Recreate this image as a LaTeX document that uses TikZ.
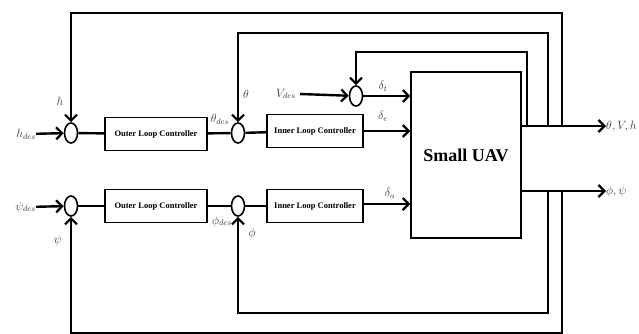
\documentclass[tikz,border=0pt]{standalone}
\usepackage{fontspec}
\setmainfont{Liberation Serif}
\usetikzlibrary{shapes.geometric,arrows.meta,calc}
\definecolor{lblcol}{rgb}{0.2,0.22,0.3}
\begin{document}
\begin{tikzpicture}[x=1pt,y=-1pt,>={Straight Barb[length=6pt,width=12pt,line width=2.2pt]}]
        \tikzstyle{sum}=[ellipse,draw=black,line width=1.6pt,fill=white,minimum width=13pt,minimum height=20pt,inner sep=0pt]
        \tikzstyle{ctrl}=[rectangle,draw=black,line width=1.4pt,minimum height=33pt,inner sep=0pt,font=\bfseries\fontsize{8.5}{9}\selectfont]
        \tikzstyle{lbl}=[text=lblcol,inner sep=0pt,font=\fontsize{12}{14}\selectfont]
        \tikzstyle{sig}=[draw, line width=2.4pt]
        \useasboundingbox (0,0) rectangle (639,334);
       \begin{scope}
         % upper channel
         \node [sum] (s1) at (71,133) {};
         \node [ctrl,minimum width=102pt] (olc1) at (156,134) {Outer Loop Controller};
         \node [sum] (s2) at (238,133) {};
         \node [ctrl,minimum width=96pt] (ilc1) at (315,131) {Inner Loop Controller};
         \node [sum] (s3) at (356,96) {};
         \node [draw=black,line width=1.4pt,minimum width=110pt,minimum height=166pt,inner sep=0pt,font=\bfseries\fontsize{18}{21}\selectfont] (uav) at (466,155) {Small UAV};
         % lower channel
         \node [sum] (s4) at (71,206) {};
         \node [ctrl,minimum width=102pt] (olc2) at (156,206) {Outer Loop Controller};
         \node [sum] (s5) at (238,206) {};
         \node [ctrl,minimum width=96pt] (ilc2) at (315,206) {Inner Loop Controller};
         % inputs and outputs
         \node [lbl,anchor=east] (hdes) at (36,134) {$h_{des}$};
         \node [lbl,anchor=east] (psides) at (36,207) {$\psi_{des}$};
         \node [lbl,anchor=east] (vdes) at (296,94) {$V_{des}$};
         \node [lbl,anchor=west] (out1) at (606,126) {$\theta,V,h$};
         \node [lbl,anchor=west] (out2) at (606,191) {$\phi,\psi$};
         \node [lbl] (h) at (60,101) {$h$};
         \node [lbl] (th) at (246,94) {$\theta$};
         \node [lbl] (thdes) at (220,119) {$\theta_{des}$};
         \node [lbl] (dt) at (383,86) {$\delta_t$};
         \node [lbl] (de) at (383,116) {$\delta_e$};
         \node [lbl] (da) at (390,193) {$\delta_a$};
         \node [lbl] (psi) at (58,240) {$\psi$};
         \node [lbl] (phdes) at (222,221) {$\phi_{des}$};
         \node [lbl] (ph) at (252,233) {$\phi$};
         % branch points
         \coordinate (f1) at (527,126);
         \coordinate (f2) at (548,126);
         \coordinate (f3) at (562,126);
         \coordinate (f4) at (548,191);
         \coordinate (f5) at (562,191);
         \coordinate (c1) at (527,52);
         \coordinate (c2) at (548,33);
         \coordinate (c3) at (562,13);
         \coordinate (c4) at (548,313);
         \coordinate (c5) at (562,333);
         % forward paths
         \path[sig,->] (hdes) -- (s1);
         \path[sig] (s1) -- (olc1);
         \path[sig] (olc1) -- (s2);
         \path[sig] (s2) -- (ilc1);
         \path[sig,->] (ilc1.east) -- (ilc1.east -| uav.west);
         \path[sig,->] (vdes.east) ++(4pt,0) -- (s3);
         \path[sig,->] (s3) -- (s3 -| uav.west);
         \path[sig,->] (psides) -- (s4);
         \path[sig] (s4) -- (olc2);
         \path[sig] (olc2) -- (s5);
         \path[sig] (s5) -- (ilc2);
         \path[sig,->] (ilc2.east) ++(0,-2) -- ($(ilc2.east -| uav.west)+(0,-2)$);
         \path[sig,->] (f1 -| uav.east) -- (out1);
         \path[sig,->] (f4 -| uav.east) -- (out2);
         % feedback paths
         \path[sig,->] (f1) -- (c1) -| (s3.north);
         \path[sig,->] (f2) -- (c2) -| (s2.north);
         \path[sig,->] (f3) -- (c3) -| (s1.north);
         \path[sig,->] (f4) -- (c4) -| (s5.south);
         \path[sig,->] (f5) -- (c5) -| (s4.south);
        \end{scope}
      \end{tikzpicture}
\end{document}
